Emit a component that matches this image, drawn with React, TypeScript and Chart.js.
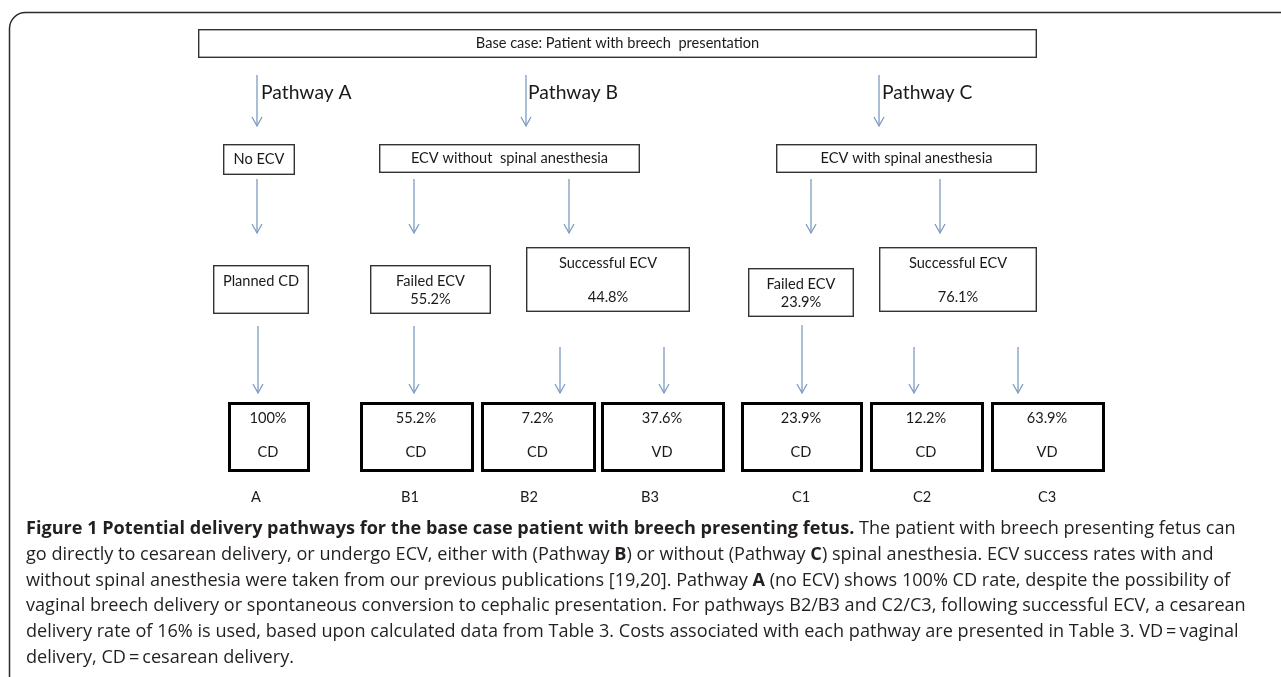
import React, { useEffect, useRef } from "react";
import { Chart, registerables } from "chart.js";

Chart.register(...registerables);

// ---------- data ----------
const headerLabel = "Base case: Patient with breech  presentation";
const pathwayNames = ["Pathway A", "Pathway B", "Pathway C"];
const strategyLabels = ["No ECV", "ECV without  spinal anesthesia", "ECV with spinal anesthesia"];
const ecvOutcomeLabels = ["Planned CD", "Failed ECV", "Successful ECV", "Failed ECV", "Successful ECV"];
const ecvOutcomeRates = ["", "55.2%", "44.8%", "23.9%", "76.1%"];
const endpointCodes = ["A", "B1", "B2", "B3", "C1", "C2", "C3"];
const endpointRates = [100, 55.2, 7.2, 37.6, 23.9, 12.2, 63.9];
const endpointModes = ["CD", "CD", "CD", "VD", "CD", "CD", "VD"];

type Seg = [string, boolean];
const captionLines: Seg[][] = [
  [["Figure 1 Potential delivery pathways for the base case patient with breech presenting fetus.", true], [" The patient with breech presenting fetus can", false]],
  [["go directly to cesarean delivery, or undergo ECV, either with (Pathway ", false], ["B", true], [") or without (Pathway ", false], ["C", true], [") spinal anesthesia. ECV success rates with and", false]],
  [["without spinal anesthesia were taken from our previous publications [19,20]. Pathway ", false], ["A", true], [" (no ECV) shows 100% CD rate, despite the possibility of", false]],
  [["vaginal breech delivery or spontaneous conversion to cephalic presentation. For pathways B2/B3 and C2/C3, following successful ECV, a cesarean", false]],
  [["delivery rate of 16% is used, based upon calculated data from Table 3. Costs associated with each pathway are presented in Table 3. VD\u2009=\u2009vaginal", false]],
  [["delivery, CD\u2009=\u2009cesarean delivery.", false]],
];

// ---------- layout (chart units) ----------
const W = 1281;
const H = 677;
const L = {
  frame: { x: 9.5, y: 12.5, r: 16 },
  header: [198, 1037, 29, 58],
  pathArrows: [[257, 75, 126], [526, 75, 126], [879, 75, 126]],
  pathLabelX: [261, 528, 882],
  pathLabelY: 93,
  strategyBoxes: [[223, 295, 144, 175], [379, 640, 144, 173], [776, 1037, 144, 173]],
  stage2Arrows: [[257, 179, 233], [414, 179, 233], [569, 179, 233], [811, 179, 233], [940, 179, 233]],
  outcomeBoxes: [[213, 309, 265, 314], [370, 491, 265, 314], [526, 690, 247, 312], [748, 854, 268, 317], [879, 1037, 247, 312]],
  outcomeTextY: [[281], [281, 299], [263, 297], [284, 302], [263, 297]],
  stage3Arrows: [[258, 326, 393], [414, 326, 393], [560, 347, 393], [664, 347, 393], [802, 325, 393], [914, 347, 393], [1018, 347, 393]],
  endBoxes: [[228, 310], [360, 474], [481, 596], [601, 725], [741, 863], [870, 984], [991, 1105]],
  endBoxY: [402, 472],
  endTextY: [418, 452],
  codeX: [256, 410, 529, 650, 801, 922, 1047],
  codeY: 497,
  captionX: 26,
  captionBaseline: 534,
  captionPitch: 25.8,
};

const DIAG_FONT = "Lato, 'Liberation Sans', sans-serif";
const CAP_FONT = "'Open Sans', 'Noto Sans', sans-serif";
const ARROW = "#7d9bc1";
const BOX = "#333333";
const TEXT = "#1a1a1a";
const DIAG_SIZE = 14.6;
const PATH_SIZE = 19.3;
const CAP_SIZE = 18.1;

const flowPlugin = {
  id: "flowchart",
  afterDraw(chart: any) {
    const ctx: CanvasRenderingContext2D = chart.ctx;
    const xs = chart.scales.x;
    const ys = chart.scales.y;
    const X = (v: number) => xs.getPixelForValue(v);
    const Y = (v: number) => ys.getPixelForValue(v);

    ctx.save();

    // outer frame (top-left rounded)
    const f = L.frame;
    ctx.strokeStyle = "#2b2b2b";
    ctx.lineWidth = 1.5;
    ctx.beginPath();
    ctx.moveTo(X(W), Y(f.y));
    ctx.lineTo(X(f.x + f.r), Y(f.y));
    ctx.arcTo(X(f.x), Y(f.y), X(f.x), Y(f.y + f.r), f.r);
    ctx.lineTo(X(f.x), Y(H));
    ctx.stroke();

    const box = (x0: number, x1: number, y0: number, y1: number, lw: number, color: string) => {
      ctx.strokeStyle = color;
      ctx.lineWidth = lw;
      ctx.strokeRect(X(x0) + lw / 2, Y(y0) + lw / 2, X(x1) - X(x0) - lw, Y(y1) - Y(y0) - lw);
    };
    const arrow = (x: number, y0: number, y1: number) => {
      ctx.strokeStyle = ARROW;
      ctx.lineWidth = 1.3;
      ctx.beginPath();
      ctx.moveTo(X(x), Y(y0));
      ctx.lineTo(X(x), Y(y1));
      ctx.stroke();
      ctx.beginPath();
      ctx.moveTo(X(x) - 5, Y(y1) - 9);
      ctx.lineTo(X(x), Y(y1));
      ctx.lineTo(X(x) + 5, Y(y1) - 9);
      ctx.stroke();
    };
    const text = (s: string, x: number, y: number, size: number, align: CanvasTextAlign = "center") => {
      ctx.fillStyle = TEXT;
      ctx.font = `${size}px ${DIAG_FONT}`;
      ctx.textAlign = align;
      ctx.textBaseline = "middle";
      ctx.fillText(s, X(x), Y(y));
    };

    // header
    const h = L.header;
    box(h[0], h[1], h[2], h[3], 1.4, BOX);
    text(headerLabel, (h[0] + h[1]) / 2, (h[2] + h[3]) / 2, DIAG_SIZE);

    // pathway arrows + labels
    L.pathArrows.forEach((a, i) => {
      arrow(a[0], a[1], a[2]);
      text(pathwayNames[i], L.pathLabelX[i], L.pathLabelY, PATH_SIZE, "left");
    });

    // strategy boxes
    L.strategyBoxes.forEach((b, i) => {
      box(b[0], b[1], b[2], b[3], 1.4, BOX);
      text(strategyLabels[i], (b[0] + b[1]) / 2, (b[2] + b[3]) / 2, DIAG_SIZE);
    });

    L.stage2Arrows.forEach((a) => arrow(a[0], a[1], a[2]));

    // ECV outcome boxes
    L.outcomeBoxes.forEach((b, i) => {
      box(b[0], b[1], b[2], b[3], 1.4, BOX);
      const cx = (b[0] + b[1]) / 2;
      const ty = L.outcomeTextY[i];
      text(ecvOutcomeLabels[i], cx, ty[0], DIAG_SIZE);
      if (ecvOutcomeRates[i]) text(ecvOutcomeRates[i], cx, ty[1], DIAG_SIZE);
    });

    L.stage3Arrows.forEach((a) => arrow(a[0], a[1], a[2]));

    // endpoint boxes
    L.endBoxes.forEach((b, i) => {
      box(b[0], b[1], L.endBoxY[0], L.endBoxY[1], 3, "#000000");
      const cx = (b[0] + b[1]) / 2;
      text(`${endpointRates[i]}%`, cx - 1, L.endTextY[0], DIAG_SIZE);
      text(endpointModes[i], cx - 1, L.endTextY[1], DIAG_SIZE);
      text(endpointCodes[i], L.codeX[i], L.codeY, DIAG_SIZE);
    });

    // caption
    ctx.textAlign = "left";
    ctx.textBaseline = "alphabetic";
    ctx.fillStyle = "#231f20";
    captionLines.forEach((line, li) => {
      let cx = X(L.captionX);
      const by = Y(L.captionBaseline + li * L.captionPitch);
      line.forEach(([s, bold]) => {
        ctx.font = `${bold ? "bold " : ""}${CAP_SIZE}px ${CAP_FONT}`;
        ctx.fillText(s, cx, by);
        cx += ctx.measureText(s).width;
      });
    });

    ctx.restore();
  },
};

export default function App() {
  const ref = useRef<HTMLCanvasElement | null>(null);
  useEffect(() => {
    document.body.style.margin = "0";
    if (!ref.current) return;
    const chart = new Chart(ref.current, {
      type: "scatter",
      data: { datasets: [{ data: [], showLine: false }] },
      options: {
        animation: false,
        responsive: true,
        maintainAspectRatio: false,
        layout: { padding: 0 },
        events: [],
        scales: {
          x: { type: "linear", min: 0, max: W, display: false },
          y: { type: "linear", min: 0, max: H, reverse: true, display: false },
        },
        plugins: { legend: { display: false }, tooltip: { enabled: false }, title: { display: false } },
      },
      plugins: [flowPlugin],
    });
    return () => chart.destroy();
  }, []);
  return (
    <div style={{ position: "absolute", left: 0, top: 0, width: W, height: H, background: "#ffffff" }}>
      <canvas ref={ref} />
    </div>
  );
}
